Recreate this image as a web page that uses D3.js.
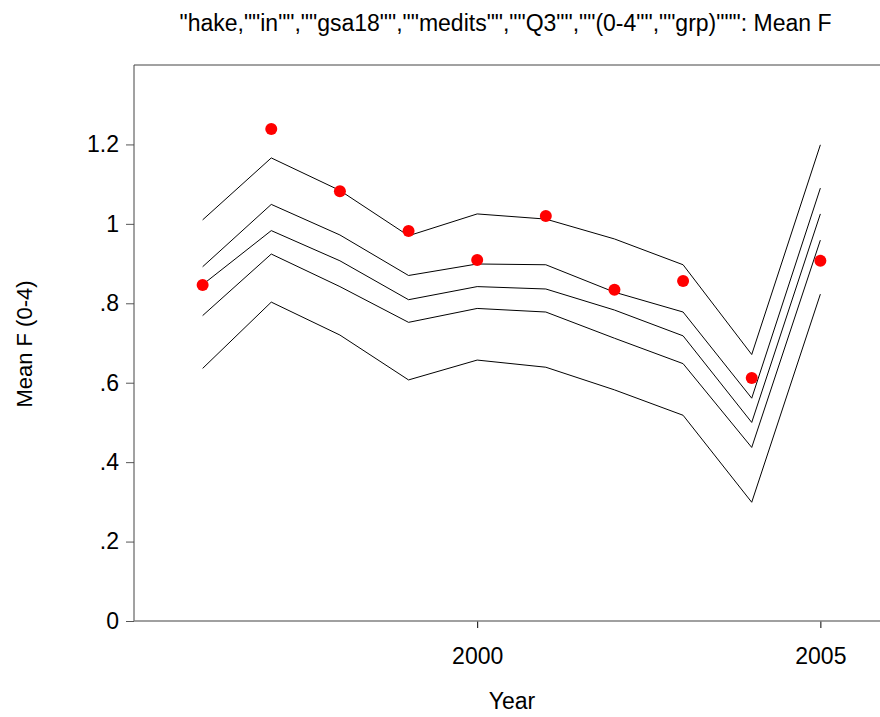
<!DOCTYPE html>
<html>
<head>
<meta charset="utf-8">
<script src="https://cdn.jsdelivr.net/npm/d3@7"></script>
<style>
  html, body { margin: 0; padding: 0; background: #fff; }
  svg { display: block; }
  text { font-family: "Liberation Sans", Arial, sans-serif; fill: #000; }
</style>
</head>
<body>
<svg id="chart" width="880" height="717"></svg>
<script>
const title = "\"hake,\"\"in\"\",\"\"gsa18\"\",\"\"medits\"\",\"\"Q3\"\",\"\"(0-4\"\",\"\"grp)\"\"\": Mean F";
const xLabel = "Year";
const yLabel = "Mean F (0-4)";

const years = [1996, 1997, 1998, 1999, 2000, 2001, 2002, 2003, 2004, 2005];
const observed = [0.846, 1.239, 1.082, 0.982, 0.909, 1.020, 0.834, 0.856, 0.612, 0.907];
const line1 = [1.010, 1.166, 1.084, 0.970, 1.025, 1.012, 0.962, 0.897, 0.671, 1.199];
const line2 = [0.892, 1.049, 0.972, 0.870, 0.899, 0.897, 0.828, 0.778, 0.561, 1.090];
const line3 = [0.847, 0.983, 0.907, 0.809, 0.842, 0.836, 0.783, 0.718, 0.500, 1.025];
const line4 = [0.769, 0.924, 0.842, 0.752, 0.787, 0.778, 0.712, 0.648, 0.437, 0.959];
const line5 = [0.636, 0.803, 0.720, 0.607, 0.657, 0.639, 0.582, 0.518, 0.299, 0.823];

const xTicks = [2000, 2005];
const yTicks = [0, 0.2, 0.4, 0.6, 0.8, 1.0, 1.2];
const yTickLabels = ["0", ".2", ".4", ".6", ".8", "1", "1.2"];

(function () {
const svg = d3.select("#chart");
const mLeft = 134, mTop = 65, mBottom = 621;

const x = d3.scaleLinear().domain([1995, 2006]).range([mLeft, 889]);
const y = d3.scaleLinear().domain([0, 1.4]).range([mBottom, mTop]);

// frame top
svg.append("line").attr("x1", mLeft).attr("x2", 880).attr("y1", mTop).attr("y2", mTop)
  .attr("stroke", "#444").attr("stroke-width", 1);

// y axis
const yAxis = d3.axisLeft(y).tickValues(yTicks)
  .tickFormat((d, i) => yTickLabels[i]).tickSize(8).tickPadding(7);
const gy = svg.append("g").attr("transform", `translate(${mLeft},0)`).call(yAxis);
gy.select(".domain").remove();
gy.selectAll(".tick line").attr("stroke", "#555");
gy.selectAll(".tick text").style("font-size", "23px").attr("fill", "#000")
  .attr("font-family", null);
svg.append("line").attr("x1", mLeft).attr("x2", mLeft).attr("y1", mTop).attr("y2", mBottom)
  .attr("stroke", "#444").attr("stroke-width", 1);

// x axis
const xAxis = d3.axisBottom(x).tickValues(xTicks).tickFormat(d3.format("d"))
  .tickSize(7).tickPadding(20);
const gx = svg.append("g").attr("transform", `translate(0,${mBottom})`).call(xAxis);
gx.select(".domain").remove();
gx.selectAll(".tick line").attr("stroke", "#000");
gx.selectAll(".tick text").style("font-size", "23px").attr("fill", "#000");
svg.append("line").attr("x1", mLeft).attr("x2", 880).attr("y1", mBottom).attr("y2", mBottom)
  .attr("stroke", "#808080").attr("stroke-width", 1.5);
svg.selectAll("g.tick text").style("font-family", "'Liberation Sans', Arial, sans-serif");

// lines
const lineGen = d3.line().x((d, i) => x(years[i])).y(d => y(d));
[line1, line2, line3, line4, line5].forEach(s => {
  svg.append("path").datum(s).attr("d", lineGen)
    .attr("fill", "none").attr("stroke", "#000").attr("stroke-width", 1);
});

// points
svg.append("g").selectAll("circle").data(observed).join("circle")
  .attr("cx", (d, i) => x(years[i])).attr("cy", d => y(d)).attr("r", 6)
  .attr("fill", "#ff0000");

// title & labels
svg.append("text").attr("x", 505.5).attr("y", 31).attr("text-anchor", "middle")
  .style("font-size", "23px").text(title);
svg.append("text").attr("x", 512).attr("y", 709).attr("text-anchor", "middle")
  .style("font-size", "23px").text(xLabel);
svg.append("text").attr("transform", `translate(32,344) rotate(-90)`).attr("text-anchor", "middle")
  .style("font-size", "22px").text(yLabel);
})();
</script>
</body>
</html>
